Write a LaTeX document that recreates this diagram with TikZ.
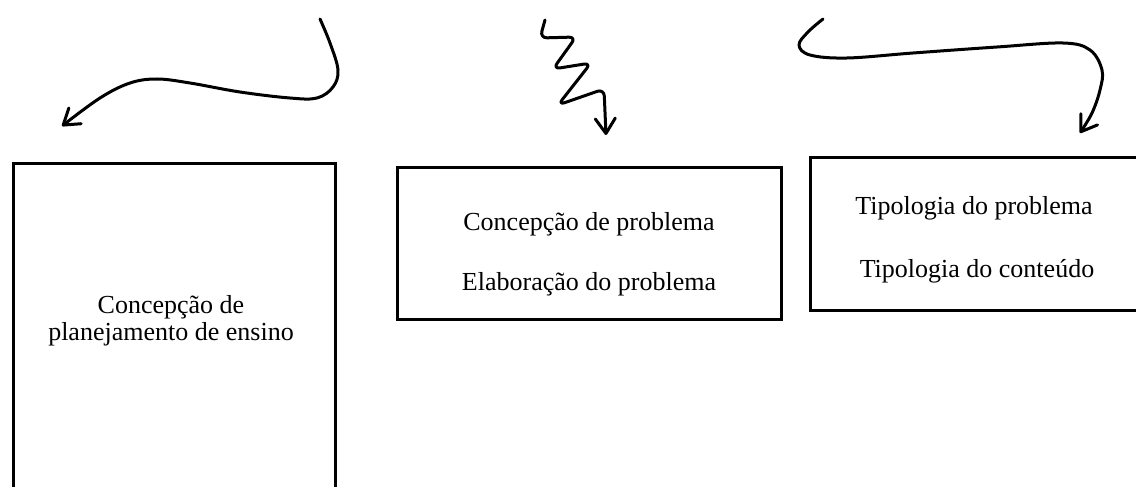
\documentclass[tikz,border=0pt]{standalone}
\usepackage{fontspec}
\setmainfont{Liberation Serif}
\usetikzlibrary{arrows.meta}
\begin{document}
\begin{tikzpicture}[x=1pt,y=-1pt,
  frame/.style={draw=black, line width=3pt, rectangle, inner sep=0pt},
  txt/.style={font=\fontsize{26}{30}\selectfont, anchor=base, inner sep=0pt},
  squiggle/.style={line width=3pt, line cap=round, line join=round,
    -{Straight Barb[length=15pt,width=20pt,round]}}]
\useasboundingbox (0,0) rectangle (1136,487);
\clip (0,0) rectangle (1136,487);

% boxes
\node[frame, minimum width=322pt, minimum height=340pt] (left) at (174,333) {};
\node[frame, minimum width=384pt, minimum height=152pt] (mid) at (589,243) {};
\node[frame, minimum width=336pt, minimum height=153pt] (right) at (978,233.5) {};

% texts
\node[txt] (l1) at (171,313) {Concepção de};
\node[txt] (l2) at (171,340) {planejamento de ensino};
\node[txt] (m1) at (589,230) {Concepção de problema};
\node[txt] (m2) at (589,290) {Elaboração do problema};
\node[txt] (r1) at (974,214) {Tipologia do problema};
\node[txt] (r2) at (977,277) {Tipologia do conteúdo};

% arrow 1
\coordinate (a1s) at (320,19);
\coordinate (a1e) at (62,126);
\draw[squiggle] plot[smooth, tension=0.6] coordinates {(a1s) (330,43) (338,70) (333,87) (317,98) (290,98) (240,92) (190,83) (157,79) (130,83) (100,98) (a1e)};

% arrow 2 (zigzag)
\coordinate (a2s) at (545,20);
\coordinate (a2e) at (606,135);
\draw[squiggle, rounded corners=7pt] (a2s) -- (540,38) -- (576,37) -- (553,69) -- (591,63) -- (558,105) -- (604,89) -- (a2e);

% arrow 3
\coordinate (a3s) at (823,19);
\coordinate (a3e) at (1080,133);
\draw[squiggle] plot[smooth, tension=0.6] coordinates {(a3s) (808,32) (799,45) (810,55) (847,58) (913,53) (997,47) (1063,43) (1090,50) (1102,70) (1100,90) (1092,113) (a3e)};
\end{tikzpicture}
\end{document}
